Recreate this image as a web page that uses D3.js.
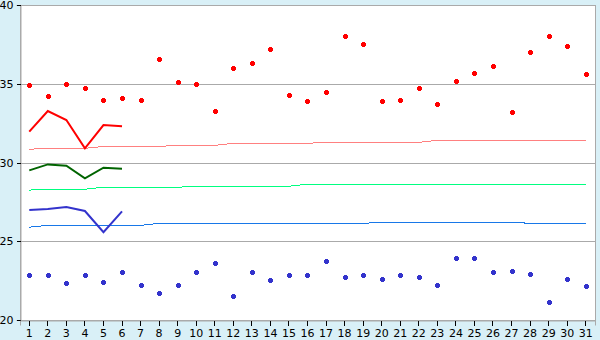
<!DOCTYPE html>
<html>
<head>
<meta charset="utf-8">
<script src="https://cdn.jsdelivr.net/npm/d3@7"></script>
<style>
  body { margin: 0; background: #d9f0f7; }
  svg { display: block; }
  text { font-family: "DejaVu Sans", Verdana, sans-serif; font-size: 11px; fill: #000; }
</style>
</head>
<body>
<svg width="600" height="340"></svg>
<script>
// Days of the month
const days = d3.range(1, 32);
const yTicks = [20, 25, 30, 35, 40];

// Daily highs / lows (points)
const highs = [34.9, 34.2, 35.0, 34.7, 34.0, 34.1, 34.0, 36.6, 35.1, 35.0,
               33.3, 36.0, 36.3, 37.2, 34.3, 33.9, 34.5, 38.0, 37.5, 33.9,
               34.0, 34.7, 33.7, 35.2, 35.7, 36.1, 33.2, 37.0, 38.0, 37.4, 35.6];
const lows = [22.84, 22.84, 22.33, 22.84, 22.4, 23.03, 22.2, 21.7, 22.2, 23.03,
              23.6, 21.5, 23.03, 22.52, 22.84, 22.84, 23.73, 22.71, 22.84, 22.58,
              22.84, 22.71, 22.2, 23.92, 23.92, 23.03, 23.09, 22.9, 21.12, 22.58, 22.14];

// Current values (first 6 days)
const maxNow = [31.96, 33.27, 32.7, 30.9, 32.38, 32.3];
const meanNow = [29.5, 29.88, 29.8, 29.0, 29.67, 29.6];
const minNow = [26.98, 27.05, 27.17, 26.92, 25.57, 26.9];

// Long-term averages
const maxAvg = [30.84, 30.9, 30.9, 30.9, 31.02, 31.02, 31.02, 31.02, 31.09, 31.09,
                31.09, 31.22, 31.22, 31.22, 31.22, 31.22, 31.28, 31.28, 31.28, 31.28,
                31.28, 31.28, 31.41, 31.41, 31.41, 31.41, 31.41, 31.41, 31.41, 31.41, 31.41];
const meanAvg = [28.25, 28.3, 28.3, 28.3, 28.43, 28.43, 28.43, 28.43, 28.43, 28.49,
                 28.49, 28.49, 28.49, 28.49, 28.49, 28.63, 28.63, 28.63, 28.63, 28.63,
                 28.63, 28.63, 28.63, 28.63, 28.63, 28.63, 28.63, 28.63, 28.63, 28.63, 28.63];
const minAvg = [25.89, 26.01, 26.01, 26.01, 26.01, 26.01, 26.01, 26.14, 26.14, 26.14,
                26.14, 26.14, 26.14, 26.14, 26.14, 26.14, 26.14, 26.14, 26.14, 26.2,
                26.2, 26.2, 26.2, 26.2, 26.2, 26.2, 26.2, 26.14, 26.14, 26.14, 26.14];

const plotL = 20, plotR = 595, plotT = 5, plotB = 320;
const svg = d3.select("svg");

const x = d3.scaleBand().domain(days).range([plotL, plotR]);
const y = d3.scaleLinear().domain([20, 40]).range([plotB, plotT]);
const cx = d => x(d) + x.bandwidth() / 2;

// plot area
svg.append("rect")
  .attr("x", plotL + 0.5).attr("y", plotT + 0.5)
  .attr("width", plotR - plotL).attr("height", plotB - plotT)
  .attr("fill", "#fff").attr("stroke", "#aaa");

// gridlines
svg.append("g").selectAll("line")
  .data(yTicks.slice(1, -1))
  .join("line")
  .attr("x1", plotL).attr("x2", plotR)
  .attr("y1", d => Math.round(y(d)) + 0.5).attr("y2", d => Math.round(y(d)) + 0.5)
  .attr("stroke", "#aaa");

// axes
const yAxis = svg.append("g")
  .attr("transform", `translate(${plotL + 0.5},0)`)
  .call(d3.axisLeft(y).tickValues(yTicks).tickSize(4).tickPadding(3));
const xAxis = svg.append("g")
  .attr("transform", `translate(0,${plotB + 0.5})`)
  .call(d3.axisBottom(x).tickSize(5).tickPadding(4));
[yAxis, xAxis].forEach(g => {
  g.select(".domain").attr("stroke", "#aaa");
  g.selectAll(".tick line").attr("stroke", "#000").attr("shape-rendering", "crispEdges");
  g.selectAll("text").attr("font-size", 11).attr("font-family", "DejaVu Sans, Verdana, sans-serif").attr("fill", "#000");
});

const line = d3.line().x((d, i) => cx(days[i])).y(d => y(d));

function drawLine(vals, color, w, crisp) {
  svg.append("path")
    .datum(vals)
    .attr("fill", "none")
    .attr("stroke", color)
    .attr("stroke-width", w)
    .attr("shape-rendering", crisp ? "crispEdges" : "auto")
    .attr("d", line);
}

drawLine(maxAvg, "#ff8080", 1, true);
drawLine(meanAvg, "#00ff80", 1, true);
drawLine(minAvg, "#1878e8", 1, true);
drawLine(maxNow, "#ff0000", 2, false);
drawLine(meanNow, "#006400", 2, false);
drawLine(minNow, "#3333cc", 2, false);

// plus-shaped markers
const marker = "M-1.5,-2.5H1.5V-1.5H2.5V1.5H1.5V2.5H-1.5V1.5H-2.5V-1.5H-1.5Z";
function drawPoints(vals, color) {
  svg.append("g").selectAll("path")
    .data(vals)
    .join("path")
    .attr("d", marker)
    .attr("shape-rendering", "crispEdges")
    .attr("transform", (d, i) => `translate(${Math.round(cx(days[i])) + 0.5},${Math.round(y(d)) + 0.5})`)
    .attr("fill", color);
}
drawPoints(highs, "#ff0000");
drawPoints(lows, "#3333cc");
</script>
</body>
</html>
